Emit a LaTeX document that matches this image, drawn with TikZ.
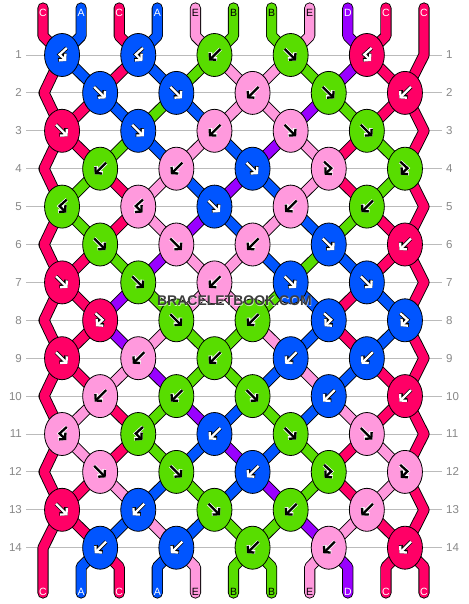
\documentclass[tikz,border=0pt]{standalone}
\usepackage{fontspec}
\setmainfont{Liberation Sans}
\usetikzlibrary{arrows.meta,shapes.geometric}
\definecolor{cC}{HTML}{FF0066}
\definecolor{cA}{HTML}{0055FF}
\definecolor{cE}{HTML}{FF99DD}
\definecolor{cB}{HTML}{58DD00}
\definecolor{cD}{HTML}{9900FF}
\definecolor{gridgray}{HTML}{BBBBBB}
\definecolor{numgray}{HTML}{888888}
\definecolor{wmgray}{HTML}{3C3C3C}
\pgfdeclarelayer{gridlayer}
\pgfdeclarelayer{strandlayer}
\pgfsetlayers{gridlayer,strandlayer,main}
\tikzset{
  knot/.style={ellipse, draw=black, line width=0.8pt, fill=#1, minimum width=35pt, minimum height=43pt, inner sep=0pt},
  strand/.style={draw=black, line width=0.9pt, double=#1, double distance=9.4pt, line join=round, line cap=round},
  gridline/.style={draw=gridgray, line width=0.9pt},
  rownum/.style={text=numgray, font=\fontsize{11.5}{12}\selectfont, inner sep=0pt},
  lab/.style={font=\fontsize{10.5}{11}\selectfont, inner sep=0pt},
  labC/.style={lab, text=white}, labA/.style={lab, text=white}, labD/.style={lab, text=white},
  labE/.style={lab, text=black}, labB/.style={lab, text=black},
  tipstyle/.style={-{Straight Barb[length=4.2pt,width=9.5pt]}},
  akW/.style={aout/.style={draw=black, line width=3.8pt, tipstyle}, ain/.style={draw=white, line width=2.3pt, tipstyle}},
  akK/.style={aout/.style={draw=white, line width=3.8pt, tipstyle}, ain/.style={draw=black, line width=2.3pt, tipstyle}},
  akA/.style={akW}, akC/.style={akW}, akD/.style={akW}, akE/.style={akK}, akB/.style={akK},
  arrf/.pic={\draw[aout] (-6,-6) -- (5.5,5.5); \draw[ain] (-6,-6) -- (5.5,5.5);},
  arrb/.pic={\draw[aout] (6,-6) -- (-5.5,5.5); \draw[ain] (6,-6) -- (-5.5,5.5);},
  arrbf/.pic={\draw[aout] (4.7,-7) -- (-2.5,-0.5) -- (4.2,6); \draw[ain] (4.7,-7) -- (-2.5,-0.5) -- (4.2,6);},
  arrfb/.pic={\draw[aout] (-4.7,-7) -- (2.5,-0.5) -- (-4.2,6); \draw[ain] (-4.7,-7) -- (2.5,-0.5) -- (-4.2,6);},
}
\begin{document}
\begin{tikzpicture}[x=1pt,y=-1pt]
\path[use as bounding box] (0,0) rectangle (468,604);
\begin{pgfonlayer}{gridlayer}
  \fill[white] (0,0) rectangle (468,604);
\end{pgfonlayer}

% row numbers and grid lines
\foreach \r in {1,...,14} {
  \pgfmathsetmacro\ky{55+37.9*(\r-1)}
  \begin{pgfonlayer}{gridlayer}
    \draw[gridline] (26,\ky) -- (442,\ky);
  \end{pgfonlayer}
  \node[rownum, anchor=east] (rl\r) at (22,\ky) {\r};
  \node[rownum, anchor=west] (rr\r) at (446,\ky) {\r};
}

% knots
\foreach \r/\list in {
  1/{A/bf,A/bf,B/b,B/f,C/bf},
  2/{A/f,A/f,E/b,B/f,C/b},
  3/{C/f,A/f,E/b,E/f,B/f},
  4/{B/b,E/b,A/f,E/fb,B/fb},
  5/{B/bf,E/bf,A/f,E/b,B/b},
  6/{B/f,E/f,E/b,A/f,C/b},
  7/{C/f,B/f,E/b,A/f,A/f},
  8/{C/fb,B/f,B/b,A/fb,A/fb},
  9/{C/f,E/b,B/b,A/b,A/b},
  10/{E/b,B/b,B/f,A/b,C/b},
  11/{E/bf,B/bf,A/b,B/f,E/f},
  12/{E/f,B/f,A/b,B/fb,E/fb},
  13/{C/f,A/b,B/f,B/b,E/b},
  14/{A/b,A/b,B/b,E/b,C/b}} {
  \pgfmathtruncatemacro\odd{mod(\r,2)}
  \foreach \kc/\kt [count=\c] in \list {
    \pgfmathsetmacro\kx{\odd*(62.05+76.2*(\c-1))+(1-\odd)*(100.15+76.2*(\c-1))}
    \pgfmathsetmacro\ky{55+37.9*(\r-1)}
    \node[knot=c\kc] (k\r-\c) at (\kx,\ky) {};
    \pic[ak\kc] at (k\r-\c.center) {arr\kt};
  }
}

\begin{pgfonlayer}{strandlayer}
% diagonal segments between rows
\foreach \r/\cols in {
  1/{A,C,A,B,E,E,B,D,C},
  2/{C,A,B,A,E,E,D,B,C},
  3/{C,B,A,E,A,D,E,C,B},
  4/{B,C,E,A,D,A,E,C,B},
  5/{B,C,E,D,A,E,A,B,C},
  6/{C,B,D,E,E,A,B,A,C},
  7/{C,D,B,E,E,B,A,C,A},
  8/{C,D,E,B,B,E,A,C,A},
  9/{C,E,D,B,B,A,E,A,C},
  10/{E,C,B,D,A,B,A,E,C},
  11/{E,C,B,A,D,A,B,C,E},
  12/{C,E,A,B,A,D,B,C,E},
  13/{C,A,E,A,B,B,D,E,C}} {
  \pgfmathtruncatemacro\rn{\r+1}
  \pgfmathtruncatemacro\odd{mod(\r,2)}
  \foreach \col [count=\i] in \cols {
    \pgfmathtruncatemacro\p{\i+1}
    \pgfmathtruncatemacro\ca{\odd*int((\p+1)/2)+(1-\odd)*int(\p/2)}
    \pgfmathtruncatemacro\cb{(1-\odd)*int((\p+1)/2)+\odd*int(\p/2)}
    \draw[strand=c\col] (k\r-\ca.center) -- (k\rn-\cb.center);
  }
}
% left edge chevrons
\foreach \r in {1,3,...,11} {
  \pgfmathtruncatemacro\rn{\r+2}
  \draw[strand=cC] (k\r-1.center) -- (44,{55+37.9*\r}) -- (k\rn-1.center);
}
% right edge chevrons
\foreach \r in {2,4,...,12} {
  \pgfmathtruncatemacro\rn{\r+2}
  \draw[strand=cC] (k\r-5.center) -- (424,{55+37.9*\r}) -- (k\rn-5.center);
}
% top strands
\foreach \col [count=\i] in {C,A,C,A,E,B,B,E,D,C} {
  \pgfmathtruncatemacro\c{int((\i+1)/2)}
  \pgfmathsetmacro\xx{43+38.1*(\i-1)}
  \draw[strand=c\col] (\xx,8) -- (\xx,36) -- (k1-\c.center);
}
\draw[strand=cC] (424,8) -- (424,55) -- (k2-5.center);
% bottom strands
\draw[strand=cC] (k13-1.center) -- (43,548) -- (43,593);
\foreach \col [count=\i from 2] in {A,C,A,E,B,B,E,D,C,C} {
  \pgfmathtruncatemacro\c{int(\i/2)}
  \pgfmathsetmacro\xx{43+38.1*(\i-1)}
  \draw[strand=c\col] (k14-\c.center) -- (\xx,567) -- (\xx,593);
}
\end{pgfonlayer}

% string labels
\foreach \col [count=\i] in {C,A,C,A,E,B,B,E,D,C,C} {
  \pgfmathsetmacro\xx{43+38.1*(\i-1)}
  \node[lab\col] (tl\i) at (\xx,12.5) {\col};
  \node[lab\col] (bl\i) at (\xx,591.5) {\col};
}

% watermark
\node[text=white, opacity=0.7, font=\bfseries\fontsize{14}{14}\selectfont] (wmh) at (235,302) {BRACELETBOOK.COM};
\node[text=wmgray, font=\bfseries\fontsize{14}{14}\selectfont] (wm) at (234.5,301) {BRACELETBOOK.COM};
\end{tikzpicture}
\end{document}
